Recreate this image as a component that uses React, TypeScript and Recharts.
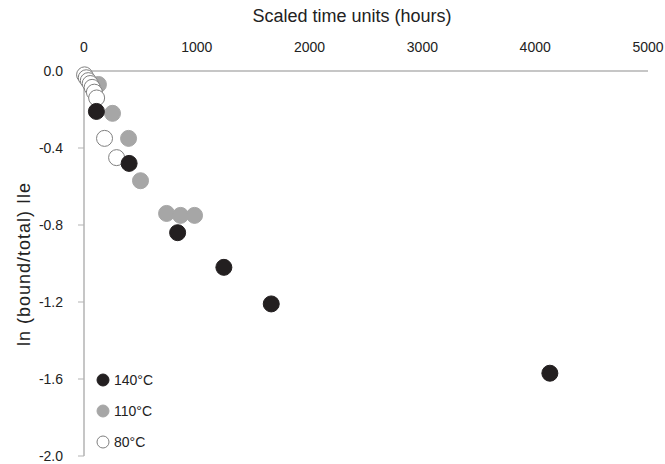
import React from 'react';
import { ScatterChart, Scatter, XAxis, YAxis } from 'recharts';

const xTicks = [0, 1000, 2000, 3000, 4000, 5000];
const yTicks = [0, -0.4, -0.8, -1.2, -1.6, -2.0];

const temp140 = [
  { t: 110, v: -0.21 },
  { t: 400, v: -0.48 },
  { t: 830, v: -0.84 },
  { t: 1240, v: -1.02 },
  { t: 1660, v: -1.21 },
  { t: 4130, v: -1.57 },
];

const temp110 = [
  { t: 128, v: -0.07 },
  { t: 253, v: -0.22 },
  { t: 395, v: -0.35 },
  { t: 501, v: -0.57 },
  { t: 732, v: -0.74 },
  { t: 856, v: -0.75 },
  { t: 980, v: -0.75 },
];

const temp80 = [
  { t: 5, v: -0.02 },
  { t: 20, v: -0.035 },
  { t: 38, v: -0.05 },
  { t: 55, v: -0.065 },
  { t: 72, v: -0.085 },
  { t: 92, v: -0.11 },
  { t: 112, v: -0.14 },
  { t: 182, v: -0.35 },
  { t: 289, v: -0.45 },
];

const legendItems = [
  { label: '140°C', fill: '#231f20', stroke: '#231f20' },
  { label: '110°C', fill: '#a6a6a6', stroke: '#a6a6a6' },
  { label: '80°C', fill: '#ffffff', stroke: '#7f7f7f' },
];

const FONT = '"Liberation Sans", Arial, sans-serif';
const TEXT = '#222';

const makeDot = (fill: string, stroke: string) => (props: any) => (
  <circle cx={props.cx} cy={props.cy} r={8} fill={fill} stroke={stroke} strokeWidth={1} />
);

const LegendBox = () => (
  <div style={{ position: 'absolute', left: 96, top: 364, fontFamily: FONT, fontSize: 14, color: TEXT }}>
    {legendItems.map((it) => (
      <div key={it.label} style={{ display: 'flex', alignItems: 'center', height: 31 }}>
        <svg width={14} height={14} style={{ marginRight: 4 }}>
          <circle cx={7} cy={7} r={6} fill={it.fill} stroke={it.stroke} strokeWidth={1} />
        </svg>
        <span>{it.label}</span>
      </div>
    ))}
  </div>
);

const XTitle = () => (
  <text x={352} y={22} textAnchor="middle" fontFamily={FONT} fontSize={18} fill={TEXT}>
    Scaled time units (hours)
  </text>
);

const YTitle = () => (
  <text
    x={24}
    y={264}
    transform="rotate(-90, 24, 264)"
    textAnchor="middle"
    dominantBaseline="central"
    fontFamily={FONT}
    fontSize={18}
    letterSpacing={1}
    fill={TEXT}
  >
    ln (bound/total) Ile
  </text>
);

export default function App() {
  return (
    <div style={{ position: 'absolute', left: 0, top: 0, width: 665, height: 464, background: '#fff' }}>
      <ScatterChart width={665} height={464} margin={{ top: 41, right: 17, bottom: 8, left: 24 }}>
        <XAxis
          type="number"
          dataKey="t"
          orientation="top"
          domain={[0, 5000]}
          ticks={xTicks}
          height={30}
          tickLine={false}
          tickSize={0}
          tickMargin={19}
          axisLine={{ stroke: '#b3b3b3', strokeWidth: 1.5 }}
          tick={{ fill: TEXT, fontSize: 14, fontFamily: FONT }}
          label={{ content: () => <XTitle /> }}
        />
        <YAxis
          type="number"
          dataKey="v"
          domain={[-2, 0]}
          ticks={yTicks}
          width={60}
          tickSize={6}
          tickMargin={15}
          tickFormatter={(v: number) => v.toFixed(1)}
          axisLine={{ stroke: '#b3b3b3', strokeWidth: 1.5 }}
          tickLine={{ stroke: '#b3b3b3' }}
          tick={{ fill: TEXT, fontSize: 14, fontFamily: FONT }}
          label={{ content: () => <YTitle /> }}
        />
        <Scatter name="110°C" data={temp110} shape={makeDot('#a6a6a6', '#a6a6a6')} isAnimationActive={false} />
        <Scatter name="80°C" data={temp80} shape={makeDot('#ffffff', '#7f7f7f')} isAnimationActive={false} />
        <Scatter name="140°C" data={temp140} shape={makeDot('#231f20', '#231f20')} isAnimationActive={false} />
      </ScatterChart>
      <LegendBox />
    </div>
  );
}
